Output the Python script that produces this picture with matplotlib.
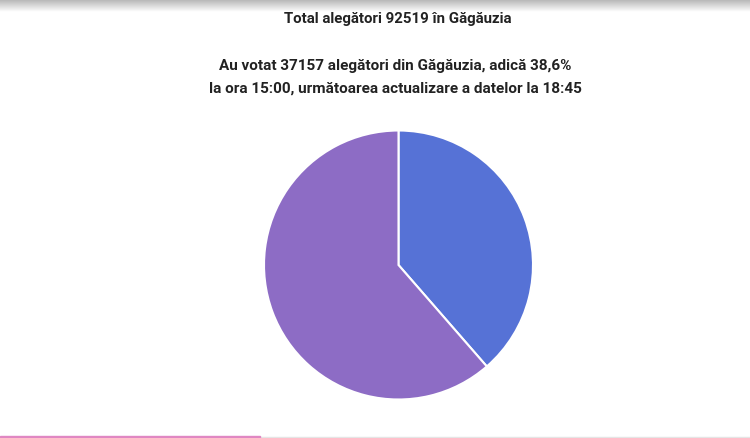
import matplotlib.pyplot as plt
from matplotlib.patches import Rectangle
import numpy as np

plt.rcParams['font.family'] = ['Roboto', 'DejaVu Sans']

# date
total = 92519
votat = 37157
labels = ['Au votat', 'Nu au votat']
values = [38.6, 61.4]
colors = ['#5672d6', '#8d6cc5']

titlu = 'Total alegători 92519 în Găgăuzia'
subtitlu = 'Au votat 37157 alegători din Găgăuzia, adică 38,6%\nla ora 15:00, următoarea actualizare a datelor la 18:45'

fig = plt.figure(figsize=(7.5, 4.38), dpi=100)
fig.patch.set_facecolor('white')

# umbra de sus si bara roz de jos
grad = np.linspace(0.72, 1.0, 50).reshape(-1, 1)
ax_sh = fig.add_axes([0, 1 - 12 / 438, 1, 12 / 438])
ax_sh.imshow(grad, cmap='gray', vmin=0, vmax=1, aspect='auto', origin='upper')
ax_sh.axis('off')
fig.add_artist(Rectangle((0, 0), 1, 1.5 / 438, transform=fig.transFigure, color='#e5e5e5'))
fig.add_artist(Rectangle((0, 0), 260 / 750, 2.5 / 438, transform=fig.transFigure, color='#e087c2'))

fig.text(398 / 750, 1 - 19 / 438, titlu, ha='center', va='center', fontsize=10.8,
         fontweight='bold', color='#222222')
fig.text(395 / 750, 1 - 77 / 438, subtitlu, ha='center', va='center', fontsize=11,
         fontweight='bold', color='#222222', linespacing=1.75)

# pie
r = 134.5
cx, cy = 398.5, 265
ax = fig.add_axes([(cx - r) / 750, (438 - cy - r) / 438, 2 * r / 750, 2 * r / 438])
ax.pie(values, colors=colors, startangle=90, counterclock=False,
       wedgeprops=dict(edgecolor='white', linewidth=1.5))
ax.set_aspect('auto')
ax.set_xlim(-1, 1)
ax.set_ylim(-1, 1)
ax.axis('off')

fig.savefig('out.png', dpi=100)
